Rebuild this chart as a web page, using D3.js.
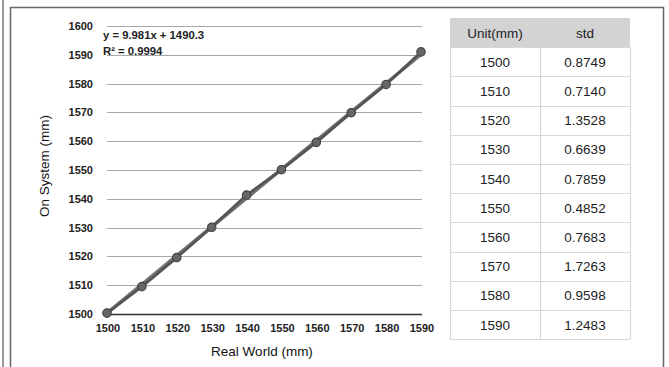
<!DOCTYPE html>
<html>
<head>
<meta charset="utf-8">
<script src="https://cdn.jsdelivr.net/npm/d3@7"></script>
<style>
  body { margin: 0; background: #fff; }
  svg text { font-family: "Liberation Sans", Arial, sans-serif; }
</style>
</head>
<body>
<div id="chart"></div>
<script>
// measured values
var realWorld = [1500, 1510, 1520, 1530, 1540, 1550, 1560, 1570, 1580, 1590]
var onSystem = [1500.3, 1509.5, 1519.6, 1530.1, 1541.3, 1550.1, 1559.6, 1569.9, 1579.7, 1591.0]
var yTicks = [1500, 1510, 1520, 1530, 1540, 1550, 1560, 1570, 1580, 1590, 1600]
var trendSlope = 9.981, trendIntercept = 1490.3
var eqLines = ["y = 9.981x + 1490.3", "R\u00b2 = 0.9994"]

// table
var tableHead = ["Unit(mm)", "std"]
var tableUnit = [1500, 1510, 1520, 1530, 1540, 1550, 1560, 1570, 1580, 1590]
var tableStd = ["0.8749", "0.7140", "1.3528", "0.6639", "0.7859", "0.4852", "0.7683", "1.7263", "0.9598", "1.2483"]

var W = 669, H = 367

var svg = d3.select("#chart").append("svg")
    .attr("width", W)
    .attr("height", H)

// outer frame
svg.append("line").attr("x1", 3).attr("x2", 3).attr("y1", 0).attr("y2", H)
    .style("stroke", "#555").style("stroke-width", 1.2)
svg.append("path")
    .attr("d", "M10.5," + H + "V7.5H663.5V" + H)
    .style("fill", "none").style("stroke", "#666").style("stroke-width", 1.5)

var x = d3.scaleLinear().domain([1500, 1590]).range([107, 421])
var y = d3.scaleLinear().domain([1500, 1600]).range([314, 26])

// gridlines
svg.selectAll("line.grid")
    .data(yTicks)
  .enter().append("line")
    .attr("class", "grid")
    .attr("x1", 107).attr("x2", 422)
    .attr("y1", function(d) { return Math.round(y(d)) + 0.5 })
    .attr("y2", function(d) { return Math.round(y(d)) + 0.5 })
    .style("stroke", function(d) { return d == 1500 ? "#333" : "#a8a8a8" })
    .style("stroke-width", function(d) { return d == 1500 ? 1.3 : 1 })

// y tick labels
svg.selectAll("text.ytick")
    .data(yTicks)
  .enter().append("text")
    .attr("class", "ytick")
    .attr("x", 93)
    .attr("y", function(d) { return y(d) + 4 })
    .attr("text-anchor", "end")
    .style("font-size", "11px").style("font-weight", "bold").style("fill", "#222")
    .text(function(d) { return d })

// x tick labels
svg.selectAll("text.xtick")
    .data(realWorld)
  .enter().append("text")
    .attr("class", "xtick")
    .attr("x", function(d) { return x(d) + 1 })
    .attr("y", 332)
    .attr("text-anchor", "middle")
    .style("font-size", "11px").style("font-weight", "bold").style("fill", "#222")
    .text(function(d) { return d })

// axis titles
svg.append("text")
    .attr("x", 262).attr("y", 356)
    .attr("text-anchor", "middle")
    .style("font-size", "13.5px").style("fill", "#111")
    .text("Real World (mm)")
svg.append("text")
    .attr("transform", "translate(49,166) rotate(-90)")
    .attr("text-anchor", "middle")
    .style("font-size", "13.5px").style("fill", "#111")
    .text("On System (mm)")

// trendline
var trend = realWorld.map(function(d, i) { return [d, trendIntercept + trendSlope * (i + 1)] })
svg.append("path")
    .datum(trend)
    .attr("d", d3.line().x(function(d) { return x(d[0]) }).y(function(d) { return y(d[1]) }))
    .style("fill", "none").style("stroke", "#777").style("stroke-width", 3.5)

// data line
var pts = realWorld.map(function(d, i) { return [d, onSystem[i]] })
svg.append("path")
    .datum(pts)
    .attr("d", d3.line().x(function(d) { return x(d[0]) }).y(function(d) { return y(d[1]) }))
    .style("fill", "none").style("stroke", "#555").style("stroke-width", 2.8)

svg.selectAll("circle.pt")
    .data(pts)
  .enter().append("circle")
    .attr("class", "pt")
    .attr("cx", function(d) { return x(d[0]) })
    .attr("cy", function(d) { return y(d[1]) })
    .attr("r", 4.2)
    .style("fill", "#666")
    .style("stroke", "#444").style("stroke-width", 1.2)

// equation
svg.selectAll("text.eq")
    .data(eqLines)
  .enter().append("text")
    .attr("class", "eq")
    .attr("x", 103)
    .attr("y", function(d, i) { return 39 + i * 16 })
    .style("font-size", "11.3px").style("font-weight", "bold").style("fill", "#222")
    .text(function(d) { return d })

// table
var tx0 = 450, tx1 = 540, tx2 = 630, ty0 = 18, rowH = 29.2
var rows = [tableHead].concat(tableUnit.map(function(d, i) { return [String(d), tableStd[i]] }))

svg.append("rect")
    .attr("x", tx0).attr("y", ty0).attr("width", tx2 - tx0).attr("height", rowH)
    .style("fill", "#d3d3d3")

svg.selectAll("line.hrow")
    .data(d3.range(1, rows.length + 1))
  .enter().append("line")
    .attr("class", "hrow")
    .attr("x1", tx0).attr("x2", tx2)
    .attr("y1", function(d) { return Math.round(ty0 + d * rowH) + 0.5 })
    .attr("y2", function(d) { return Math.round(ty0 + d * rowH) + 0.5 })
    .style("stroke", "#d8d8d8").style("stroke-width", 1.2)

;[tx0, tx1, tx2].forEach(function(cx) {
  svg.append("line")
      .attr("x1", cx + 0.5).attr("x2", cx + 0.5)
      .attr("y1", ty0 + rowH).attr("y2", ty0 + rows.length * rowH)
      .style("stroke", "#d8d8d8").style("stroke-width", 1.2)
})

rows.forEach(function(r, i) {
  svg.selectAll("text.cell" + i)
      .data(r)
    .enter().append("text")
      .attr("x", function(d, j) { return j == 0 ? (tx0 + tx1) / 2 : (tx1 + tx2) / 2 })
      .attr("y", ty0 + i * rowH + rowH / 2 + 5)
      .attr("text-anchor", "middle")
      .style("font-size", "13.5px").style("fill", "#222")
      .text(function(d) { return d })
})
</script>
</body>
</html>
